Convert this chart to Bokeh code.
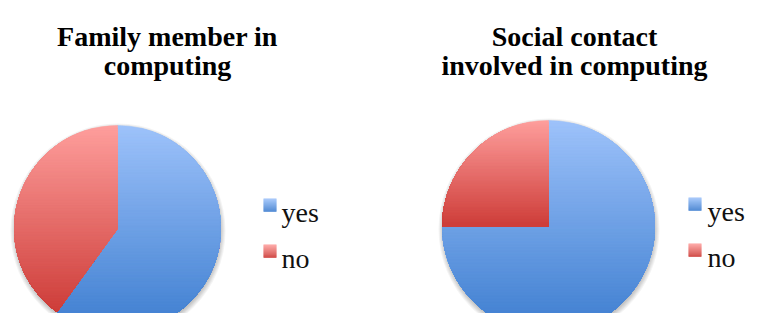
import numpy as np
from bokeh.plotting import figure
from bokeh.models import Range1d
from bokeh.core.properties import value
from bokeh.embed import file_html
from bokeh.resources import INLINE

# ---- data ----
categories = ["yes", "no"]
family_values = [60, 40]
social_values = [75, 25]
title_family = ["Family member in", "computing"]
title_social = ["Social contact", "involved in computing"]

# gradient colours (top, bottom) per category
grad = {
    "yes": ((157, 194, 250), (62, 126, 208)),
    "no": ((254, 158, 156), (206, 62, 58)),
}

REF_H = 329
W, H = 749, 313

p = figure(width=W, height=H, x_range=Range1d(0, W),
           y_range=Range1d(REF_H - H, REF_H),
           output_backend="svg", toolbar_location=None, min_border=0)
p.axis.visible = False
p.grid.visible = False
p.outline_line_color = None
p.background_fill_color = "white"
p.border_fill_color = "white"


def hx(c):
    return "#%02x%02x%02x" % tuple(int(round(v)) for v in c)


def mix(a, b, f):
    return tuple(a[i] + (b[i] - a[i]) * f for i in range(3))


def clip_below(xs, ys, t):
    ox, oy = [], []
    n = len(xs)
    for i in range(n):
        x1, y1 = xs[i], ys[i]
        x2, y2 = xs[(i + 1) % n], ys[(i + 1) % n]
        in1, in2 = y1 <= t, y2 <= t
        if in1:
            ox.append(x1)
            oy.append(y1)
        if in1 != in2:
            f = (t - y1) / (y2 - y1)
            ox.append(x1 + f * (x2 - x1))
            oy.append(t)
    return ox, oy


def draw_pie(cx, cy_ref, r, values):
    cy = REF_H - cy_ref
    fr = np.array(values, dtype=float) / sum(values)
    cum = np.concatenate([[0.0], np.cumsum(fr)])
    # soft shadow
    for k in range(6):
        p.circle(x=[cx + 0.5], y=[cy - 2.5], radius=r + 4.5 - k,
                 fill_color="black", fill_alpha=0.045, line_color=None)
    for i, cat in enumerate(categories):
        a_start = np.pi / 2 - cum[i + 1] * 2 * np.pi
        a_end = np.pi / 2 - cum[i] * 2 * np.pi
        top, bot = grad[cat]
        p.wedge(x=[cx], y=[cy], radius=r, start_angle=a_start, end_angle=a_end,
                direction="anticlock", fill_color=hx(top), line_color=hx(top),
                line_width=0.5)
        th = np.linspace(a_start, a_end, 240)
        xs = np.concatenate([[cx], cx + r * np.cos(th)])
        ys = np.concatenate([[cy], cy + r * np.sin(th)])
        ymax, ymin = ys.max(), ys.min()
        N = 70
        pxs, pys, cols = [], [], []
        for k in range(1, N):
            t = ymax - k * (ymax - ymin) / N
            ox, oy = clip_below(list(xs), list(ys), t)
            if len(ox) < 3:
                continue
            pxs.append(ox)
            pys.append(oy)
            cols.append(hx(mix(top, bot, k / (N - 1))))
        p.patches(pxs, pys, fill_color=cols, line_color=cols, line_width=0.4)


def draw_legend(x0, tops_ref, text_x, base_ref):
    size = 13
    for j, cat in enumerate(categories):
        top, bot = grad[cat]
        nb = 13
        yt = REF_H - tops_ref[j]
        lefts, rights, tps, bts, cl = [], [], [], [], []
        for b in range(nb):
            lefts.append(x0)
            rights.append(x0 + size)
            tps.append(yt - b * size / nb)
            bts.append(yt - (b + 1) * size / nb - 0.3)
            cl.append(hx(mix(top, bot, b / (nb - 1))))
        p.quad(left=lefts, right=rights, top=tps, bottom=bts,
               fill_color=cl, line_color=None)
    p.text(x=[text_x, text_x], y=[REF_H - b for b in base_ref], text=categories,
           text_font=value("Liberation Serif"), text_font_size=value("28px"),
           text_align="left", text_baseline="alphabetic", text_color="#111111")


def draw_title(cx, lines):
    p.text(x=[cx] * len(lines), y=[REF_H - 36, REF_H - 65], text=lines,
           text_font=value("Liberation Serif"), text_font_size=value("28px"),
           text_font_style="bold", text_align="center",
           text_baseline="alphabetic", text_color="#000000")


draw_pie(117, 228, 103, family_values)
draw_pie(548, 226, 106, social_values)
draw_legend(263, [198, 244], 281, [212, 258])
draw_legend(688, [197, 243], 707, [211, 257])
draw_title(167, title_family)
draw_title(574, title_social)

open("out.html", "w").write(file_html(p, INLINE))
